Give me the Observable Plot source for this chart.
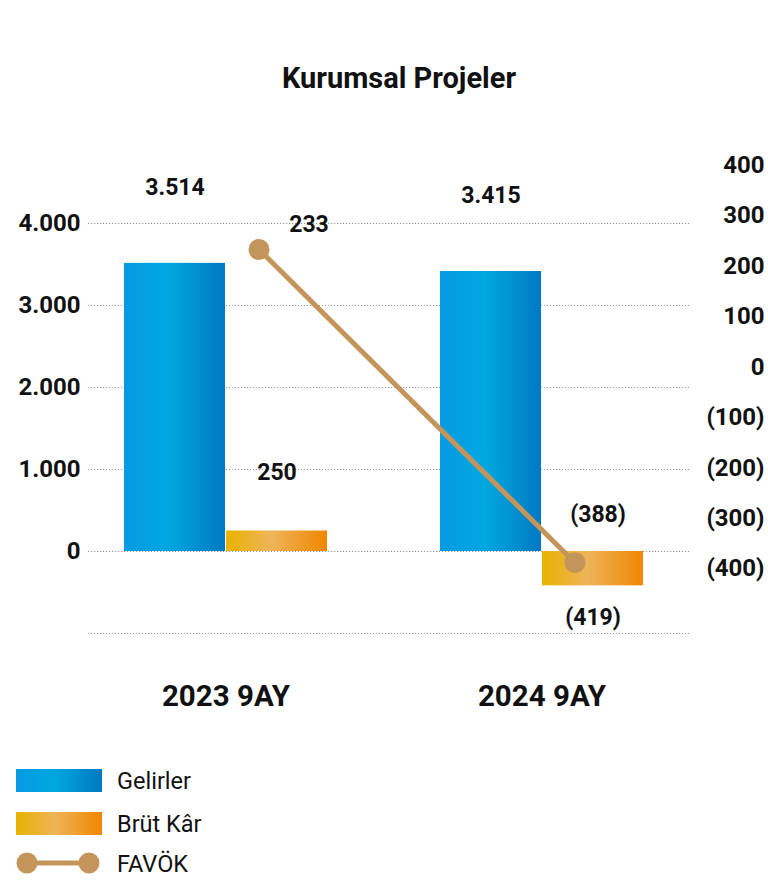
<!DOCTYPE html>
<html>
<head>
<meta charset="utf-8">
<script src="https://cdn.jsdelivr.net/npm/d3@7"></script>
<script src="https://cdn.jsdelivr.net/npm/@observablehq/plot@0.6"></script>
<style>
  body { margin: 0; background: #fff; font-family: Roboto, sans-serif; color: #111; }
  #wrap { position: relative; width: 768px; height: 880px; overflow: hidden; }
  #title { position: absolute; top: 61px; left: 30px; width: 738px; text-align: center; font-weight: 700; font-size: 29px; line-height: 34px; }
  #chart { position: absolute; top: 110px; left: 0; }
  .sw { position: absolute; left: 16px; width: 86px; height: 23px; }
  .lt { position: absolute; left: 117px; font-size: 23.5px; line-height: 26px; color: #111; }
</style>
</head>
<body>
<div id="wrap">
  <div id="title">Kurumsal Projeler</div>
  <div id="chart"></div>
  <div id="legend"></div>
</div>
<script>
// ---- data ----
const periods = ["2023 9AY", "2024 9AY"];
const gelirler = [3514, 3415];
const brutKar = [250, -419];
const favok = [233, -388];
const leftTicks = [0, 1000, 2000, 3000, 4000];
const gridTicks = [-1000, 0, 1000, 2000, 3000, 4000];
const rightTicks = [400, 300, 200, 100, 0, -100, -200, -300, -400];
const seriesNames = ["Gelirler", "Brüt Kâr", "FAVÖK"];

// secondary (right) axis mapped onto the left scale
const A = 2250, B = 6.15;
const toLeft = v => A + B * v;

const num = d3.format(",");
const fmt = v => {
  const s = num(Math.abs(v)).replace(/,/g, ".");
  return v < 0 ? `(${s})` : s;
};

const rows = periods.map((p, i) => ({
  period: p, gelir: gelirler[i], brut: brutKar[i], favok: favok[i], favY: toLeft(favok[i])
}));

const favColor = "#c4955a";
const labelStyle = { fontSize: 23, fontWeight: 700, fill: "#111" };

const plot = Plot.plot({
  width: 768,
  height: 620,
  marginTop: 31,
  marginBottom: 97,
  marginLeft: 88,
  marginRight: 78,
  style: { fontFamily: "Roboto", background: "transparent", color: "#111", overflow: "visible" },
  x: { domain: periods, paddingInner: 0.3565, paddingOuter: 0.1278, align: 0.432, label: null },
  y: { domain: [-1000, 5000], label: null },
  marks: [
    Plot.ruleY(gridTicks, { stroke: "#9a9a9a", strokeWidth: 1, strokeDasharray: "1.2,1.8" }),
    Plot.barY(rows, { x: "period", y: "gelir", fill: "url(#gGel)", insetRight: 102 }),
    Plot.barY(rows, { x: "period", y: "brut", fill: "url(#gBrut)", insetLeft: 102 }),
    Plot.line(rows, { x: "period", y: "favY", stroke: favColor, strokeWidth: 5, dx: 33 }),
    Plot.dot(rows, { x: "period", y: "favY", r: 10.5, fill: favColor, dx: 33 }),
    Plot.text(rows, { x: "period", y: "gelir", text: d => fmt(d.gelir), dx: -51, dy: -76, ...labelStyle }),
    Plot.text(rows.filter(d => d.brut >= 0), { x: "period", y: "brut", text: d => fmt(d.brut), dx: 51, dy: -58, ...labelStyle }),
    Plot.text(rows.filter(d => d.brut < 0), { x: "period", y: "brut", text: d => fmt(d.brut), dx: 51, dy: 32, ...labelStyle }),
    Plot.text(rows.filter(d => d.favok >= 0), { x: "period", y: "favY", text: d => fmt(d.favok), dx: 83, dy: -25, ...labelStyle }),
    Plot.text(rows.filter(d => d.favok < 0), { x: "period", y: "favY", text: d => fmt(d.favok), dx: 56, dy: -48, ...labelStyle }),
    Plot.axisY(leftTicks, { tickSize: 0, tickPadding: 8, fontSize: 24, fontWeight: 700, tickFormat: fmt, label: null }),
    Plot.text(rightTicks, { y: d => toLeft(d), text: d => fmt(d), frameAnchor: "right", dx: 74, textAnchor: "end", fontSize: 24, fontWeight: 700, fill: "#111" }),
    Plot.axisX({ tickSize: 0, tickPadding: 52, fontSize: 29.5, fontWeight: 700, label: null })
  ]
});

const ns = "http://www.w3.org/2000/svg";
const defs = document.createElementNS(ns, "defs");
defs.innerHTML = `
  <linearGradient id="gGel" x1="0" x2="1" y1="0" y2="0">
    <stop offset="0" stop-color="#069be2"/>
    <stop offset="0.45" stop-color="#00a7e0"/>
    <stop offset="1" stop-color="#0079c3"/>
  </linearGradient>
  <linearGradient id="gBrut" x1="0" x2="1" y1="0" y2="0">
    <stop offset="0" stop-color="#e9b300"/>
    <stop offset="0.45" stop-color="#eeb459"/>
    <stop offset="1" stop-color="#f18600"/>
  </linearGradient>`;
plot.prepend(defs);
document.getElementById("chart").appendChild(plot);

// ---- legend ----
const legend = document.getElementById("legend");
legend.innerHTML = `
  <div class="sw" style="top:769px;background:linear-gradient(to right,#069be2,#00a7e0 45%,#0079c3);"></div>
  <div class="lt" style="top:768px;">${seriesNames[0]}</div>
  <div class="sw" style="top:812px;background:linear-gradient(to right,#e9b300,#eeb459 45%,#f18600);"></div>
  <div class="lt" style="top:811px;">${seriesNames[1]}</div>
  <svg style="position:absolute;left:14px;top:850px;" width="90" height="26">
    <line x1="13" x2="75" y1="13" y2="13" stroke="${favColor}" stroke-width="5"/>
    <circle cx="13" cy="13" r="10.5" fill="${favColor}"/>
    <circle cx="75" cy="13" r="10.5" fill="${favColor}"/>
  </svg>
  <div class="lt" style="top:851px;">${seriesNames[2]}</div>`;
</script>
</body>
</html>
